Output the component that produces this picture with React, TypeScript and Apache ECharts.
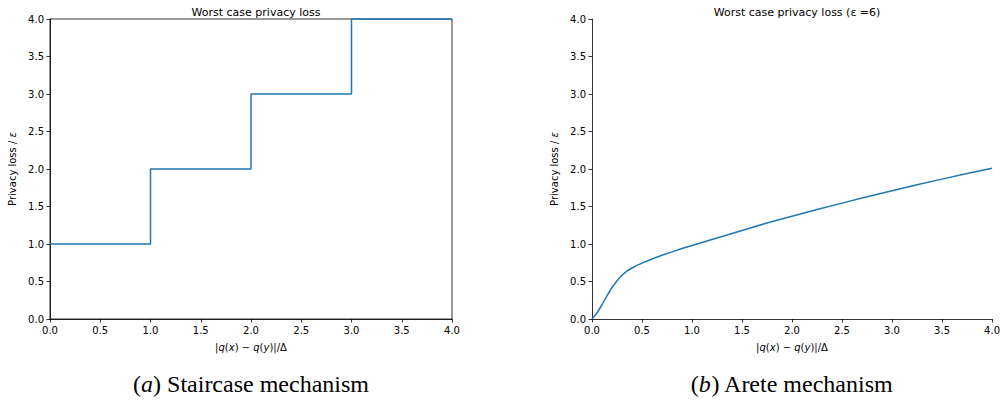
import React, { useEffect, useRef } from "react";
import * as echarts from "echarts";

const stairX = [0, 1, 2, 3, 4];
const stairY = [1, 2, 3, 4, 4];

const areteX = [0, 0.05, 0.1, 0.15, 0.2, 0.25, 0.3, 0.35, 0.4, 0.45, 0.5, 0.6, 0.7, 0.8, 0.9, 1.0, 1.25, 1.5, 1.75, 2.0, 2.25, 2.5, 2.75, 3.0, 3.25, 3.5, 3.75, 4.0];
const areteY = [0, 0.08, 0.19, 0.31, 0.42, 0.51, 0.585, 0.64, 0.68, 0.715, 0.745, 0.8, 0.85, 0.895, 0.94, 0.98, 1.08, 1.18, 1.28, 1.37, 1.46, 1.545, 1.63, 1.71, 1.79, 1.865, 1.94, 2.01];

const titles = ["Worst case privacy loss", "Worst case privacy loss (\u03b5 =6)"];
const xTitle = "|{i|q}({i|x}) \u2212 {i|q}({i|y})|/\u0394";
const yTitle = "Privacy loss / {i|\u03b5}";
const captions = ["({i|a}) Staircase mechanism", "({i|b}) Arete mechanism"];

const FONT = "DejaVu Sans";
const BLUE = "#1f77b4";

function makeAxes(idx: number) {
  const common = {
    gridIndex: idx,
    type: "value" as const,
    min: 0,
    max: 4,
    interval: 0.5,
    splitLine: { show: false },
    axisLine: { show: true, onZero: false, lineStyle: { color: "#000", width: 0.8 } },
    axisTick: { show: true, inside: false, length: 3.5, lineStyle: { color: "#000", width: 0.8 } },
    axisLabel: {
      color: "#000",
      fontFamily: FONT,
      fontSize: 10,
      margin: 6,
      formatter: (v: number) => v.toFixed(1),
    },
    nameTextStyle: {
      color: "#000",
      fontFamily: FONT,
      fontSize: 10,
      rich: { i: { fontStyle: "italic", fontFamily: FONT, fontSize: 10, color: "#000" } },
    },
  };
  const x = { ...common, name: xTitle, nameLocation: "middle", nameGap: 23 };
  const y = { ...common, name: yTitle, nameLocation: "middle", nameGap: 33 };
  return { x, y };
}

function caption(text: string, x: number) {
  return {
    type: "text",
    x,
    y: 384,
    style: {
      text,
      align: "center",
      verticalAlign: "middle",
      font: '24px "Liberation Serif"',
      fill: "#000",
      rich: { i: { fontStyle: "italic", fontFamily: "Liberation Serif", fontSize: 24, fill: "#000" } },
    } as any,
  };
}

export default function App() {
  const ref = useRef<HTMLDivElement>(null);
  useEffect(() => {
    if (!ref.current) return;
    const chart = echarts.init(ref.current, undefined, { renderer: "svg" });
    const a0 = makeAxes(0);
    const a1 = makeAxes(1);
    chart.setOption({
      animation: false,
      backgroundColor: "#fff",
      title: [
        {
          text: titles[0],
          left: 251,
          top: 2,
          textAlign: "center",
          textStyle: { fontFamily: FONT, fontSize: 11, fontWeight: "normal", color: "#000" },
        },
        {
          text: titles[1],
          left: 792,
          top: 2,
          textAlign: "center",
          textStyle: { fontFamily: FONT, fontSize: 11, fontWeight: "normal", color: "#000" },
        },
      ],
      grid: [
        { left: 50, right: 551, top: 19, bottom: 90, show: true, borderColor: "#000", borderWidth: 0.8, backgroundColor: "transparent" },
        { left: 592, right: 10, top: 19, bottom: 90 },
      ],
      xAxis: [a0.x, a1.x],
      yAxis: [a0.y, a1.y],
      series: [
        {
          type: "line",
          xAxisIndex: 0,
          yAxisIndex: 0,
          step: "end",
          showSymbol: false,
          symbol: "none",
          lineStyle: { color: BLUE, width: 1.5 },
          data: stairX.map((x, i) => [x, stairY[i]]),
          clip: false,
        },
        {
          type: "line",
          xAxisIndex: 1,
          yAxisIndex: 1,
          smooth: false,
          showSymbol: false,
          symbol: "none",
          lineStyle: { color: BLUE, width: 1.5, join: "round" },
          data: areteX.map((x, i) => [x, areteY[i]]),
          clip: false,
        },
      ],
      graphic: [caption(captions[0], 251), caption(captions[1], 792)],
    });
    return () => chart.dispose();
  }, []);
  return (
    <div
      ref={ref}
      style={{ position: "fixed", left: 0, top: 0, width: 1003, height: 409 }}
    />
  );
}
